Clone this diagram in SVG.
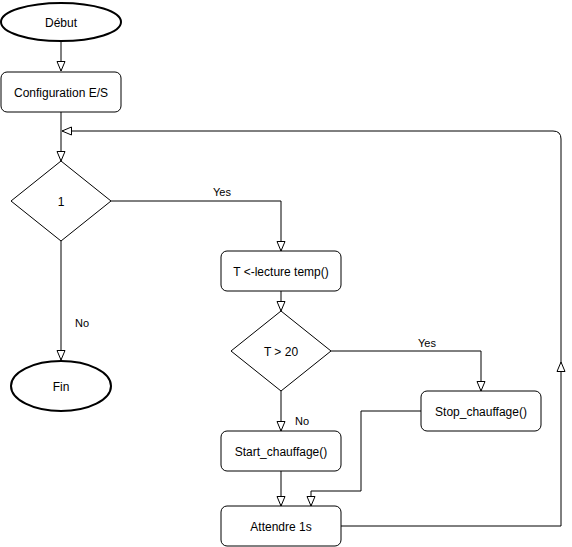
<svg xmlns="http://www.w3.org/2000/svg" width="572" height="547" viewBox="0 0 572 547">
<defs>
<marker id="arr" markerUnits="userSpaceOnUse" markerWidth="12" markerHeight="10" refX="10" refY="4.5" orient="auto" overflow="visible">
<path d="M0.5,0.5 L10,4.5 L0.5,8.5 Z" fill="#fff" stroke="#000" stroke-width="1"/>
</marker>
<style>
.n{fill:#fff;stroke:#000;stroke-width:1}
.t{stroke-width:2}
text{font-family:"Liberation Sans",Arial,sans-serif;font-size:12px;fill:#000;text-anchor:middle;dominant-baseline:central}
.l{font-size:11px}
.e{fill:none;stroke:#000;stroke-width:1}
</style>
</defs>
<rect width="572" height="547" fill="#fff"/>
<g id="connectors">
<path class="e" d="M61,41 V71" marker-end="url(#arr)"/>
<path class="e" d="M61,112 V161" marker-end="url(#arr)"/>
<path class="e" d="M111,201 H281 V251" marker-end="url(#arr)"/>
<text class="l" x="222" y="191.5">Yes</text>
<path class="e" d="M61,241 V360" marker-end="url(#arr)"/>
<text class="l" x="82" y="322.5">No</text>
<path class="e" d="M281,291 V311" marker-end="url(#arr)"/>
<path class="e" d="M331,351 H481 V391" marker-end="url(#arr)"/>
<text class="l" x="427" y="342.5">Yes</text>
<path class="e" d="M281,391 V431" marker-end="url(#arr)"/>
<text class="l" x="302" y="420.5">No</text>
<path class="e" d="M281,471 V506" marker-end="url(#arr)"/>
<path class="e" d="M421,411 H361 V491 H311 V506" marker-end="url(#arr)"/>
<path class="e" d="M341,526 H561 V362" marker-end="url(#arr)"/>
<path class="e" d="M561,362 V139 Q561,131 553,131 H62" marker-end="url(#arr)"/>
</g>
<g id="debut"><ellipse class="n t" cx="61" cy="22" rx="60" ry="19"/><text x="61" y="22.5">Début</text></g>
<g id="config"><rect class="n" x="1" y="72" width="120" height="40" rx="6"/><text x="61" y="93">Configuration E/S</text></g>
<g id="cond1"><path class="n" d="M61,161 L111,201 L61,241 L11,201 Z"/><text x="61" y="202">1</text></g>
<g id="fin"><ellipse class="n t" cx="61" cy="386" rx="50" ry="25"/><text x="61" y="387">Fin</text></g>
<g id="lecture"><rect class="n" x="221" y="251" width="120" height="40" rx="6"/><text x="281" y="272">T &lt;-lecture temp()</text></g>
<g id="cond2"><path class="n" d="M281,311 L331,351 L281,391 L231,351 Z"/><text x="281" y="352">T &gt; 20</text></g>
<g id="stop"><rect class="n" x="421" y="391" width="120" height="40" rx="6"/><text x="481" y="412">Stop_chauffage()</text></g>
<g id="start"><rect class="n" x="221" y="431" width="120" height="40" rx="6"/><text x="281" y="452">Start_chauffage()</text></g>
<g id="attendre"><rect class="n" x="221" y="506" width="120" height="40" rx="6"/><text x="281" y="527">Attendre 1s</text></g>
</svg>
